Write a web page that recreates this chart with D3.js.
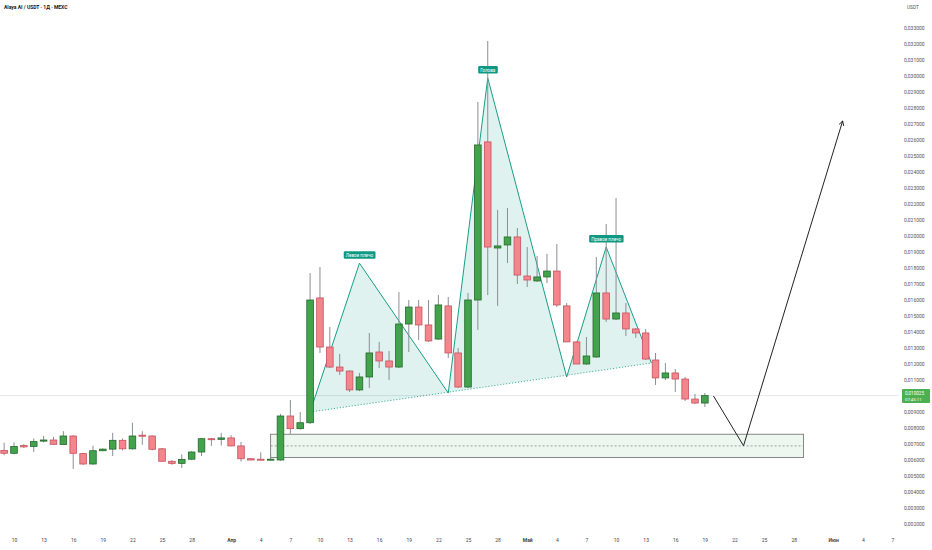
<!DOCTYPE html>
<html lang="ru">
<head>
<meta charset="UTF-8">
<title>Alaya AI / USDT</title>
<script src="https://d3js.org/d3.v7.min.js"></script>
<style>
  body { margin: 0; background: #fff; }
  svg text { font-family: Roboto, "Liberation Sans", sans-serif; }
</style>
</head>
<body>
<svg id="chart" width="932" height="550"></svg>
<script>
// --- данные (дневные свечи, 9 мар – 19 мая) ---
const firstDay = "2025-03-09";
const opens = [
  0.00660,0.00642,0.00690,0.00685,0.00718,0.00725,0.00697,0.00750,0.00640,0.00575,
  0.00658,0.00668,0.00723,0.00670,0.00755,0.00750,0.00670,0.00592,0.00579,0.00605,
  0.00650,0.00733,0.00729,0.00738,0.00688,0.00608,0.00605,0.00604,0.00600,0.00875,
  0.00796,0.00833,
  0.01613,0.01306,0.01181,0.01156,0.01038,0.01119,0.01275,0.01219,0.01181,0.01450,
  0.01556,0.01444,0.01356,0.01563,0.01269,0.01056,0.01600,0.02588,0.01925,
  0.01944,0.01994,0.01750,0.01719,0.01744,0.01781,0.01563,0.01338,0.01200,0.01244,
  0.01644,0.01481,0.01519,0.01419,0.01394,0.01225,0.01113,0.01144,0.01106,0.00981,0.00956
];
const highs = [
  0.00708,0.00710,0.00700,0.00735,0.00750,0.00745,0.00780,0.00755,0.00645,0.00690,
  0.00672,0.00770,0.00735,0.00833,0.00780,0.00755,0.00675,0.00600,0.00635,0.00655,
  0.00735,0.00738,0.00770,0.00755,0.00713,0.00612,0.00648,0.00635,0.00888,0.00975,
  0.00900,0.01769,
  0.01806,0.01431,0.01263,0.01160,0.01144,0.01394,0.01338,0.01281,0.01650,0.01600,
  0.01600,0.01600,0.01631,0.01619,0.01300,0.01644,0.02838,0.03219,0.02163,
  0.02175,0.02050,0.01931,0.01875,0.01888,0.01950,0.01581,0.01340,0.01369,0.01869,
  0.02075,0.02238,0.01581,0.01425,0.01419,0.01269,0.01206,0.01169,0.01119,0.01013,0.01019
];
const lows = [
  0.00630,0.00635,0.00675,0.00650,0.00710,0.00695,0.00695,0.00544,0.00570,0.00570,
  0.00655,0.00625,0.00660,0.00665,0.00695,0.00660,0.00590,0.00570,0.00550,0.00600,
  0.00625,0.00688,0.00690,0.00685,0.00590,0.00598,0.00598,0.00600,0.00595,0.00763,
  0.00790,0.00825,
  0.01269,0.01175,0.01131,0.01025,0.01030,0.01050,0.01175,0.01100,0.01175,0.01275,
  0.01350,0.01338,0.01350,0.01238,0.01050,0.01050,0.01413,0.01631,0.01563,
  0.01831,0.01700,0.01681,0.01713,0.01706,0.01556,0.01338,0.01200,0.01195,0.01238,
  0.01463,0.01475,0.01375,0.01363,0.01225,0.01069,0.01100,0.01025,0.00969,0.00950,0.00931
];
const closes = [
  0.00642,0.00685,0.00682,0.00715,0.00725,0.00698,0.00750,0.00642,0.00575,0.00658,
  0.00668,0.00723,0.00670,0.00750,0.00752,0.00667,0.00592,0.00579,0.00604,0.00650,
  0.00733,0.00727,0.00738,0.00688,0.00608,0.00600,0.00604,0.00605,0.00875,0.00796,
  0.00833,0.01600,
  0.01306,0.01181,0.01156,0.01038,0.01119,0.01269,0.01219,0.01181,0.01450,0.01556,
  0.01444,0.01344,0.01569,0.01269,0.01056,0.01600,0.02569,0.01931,0.01938,
  0.01994,0.01756,0.01725,0.01744,0.01781,0.01569,0.01338,0.01200,0.01250,0.01644,
  0.01481,0.01519,0.01419,0.01394,0.01231,0.01113,0.01144,0.01106,0.00981,0.00956,0.010025
];
const lastPrice = 0.010025;
const countdown = "07:45:11";

// фигура "голова и плечи"
const patternDates  = ["2025-04-09","2025-04-14","2025-04-23","2025-04-27","2025-05-05","2025-05-09","2025-05-13T14:00"];
const patternPrices = [0.00900, 0.01830, 0.01019, 0.02988, 0.01119, 0.01931, 0.01206];
const patternLabels = [[1, "Левое плечо"], [3, "Голова"], [5, "Правое плечо"]];

// зона поддержки и прогноз
const zoneDates  = ["2025-04-05", "2025-05-29"];
const zonePrices = [0.00761, 0.00616];
const zoneMid    = 0.00688;
const arrowDates  = ["2025-05-19T21:00", "2025-05-22T22:00", "2025-06-01T23:00"];
const arrowPrices = [0.01000, 0.00689, 0.02719];

// оси (0,010000 закрыта меткой текущей цены)
const priceTicks = d3.range(2, 34).filter(v => v !== 10).map(v => v / 1000);
const xTickDates = ["2025-03-10","2025-03-13","2025-03-16","2025-03-19","2025-03-22","2025-03-25","2025-03-28",
  "2025-04-01","2025-04-04","2025-04-07","2025-04-10","2025-04-13","2025-04-16","2025-04-19","2025-04-22","2025-04-25","2025-04-28",
  "2025-05-01","2025-05-04","2025-05-07","2025-05-10","2025-05-13","2025-05-16","2025-05-19","2025-05-22","2025-05-25","2025-05-28",
  "2025-06-01","2025-06-04","2025-06-07"];
const xTickLabels = ["10","13","16","19","22","25","28","Апр","4","7","10","13","16","19","22","25","28",
  "Май","4","7","10","13","16","19","22","25","28","Июн","4","7"];
const monthLabels = ["Апр", "Май", "Июн"];

const title = "Alaya AI / USDT · 1Д · MEXC";
const currency = "USDT";

// --- построение ---
const W = 932, H = 550, plotRight = 898;
const parse = s => new Date(s.length > 10 ? s + "Z" : s + "T00:00Z");
const svg = d3.select("#chart");

const x = d3.scaleUtc()
  .domain([parse("2025-03-10"), parse("2025-06-07")])
  .range([14, 892.4]);
const y = d3.scaleLinear()
  .domain([0.010, 0.032])
  .range([396, 44]);

const days = d3.utcDay.range(parse(firstDay), d3.utcDay.offset(parse(firstDay), opens.length));
const candles = days.map((d, i) => ({ date: d, o: opens[i], h: highs[i], l: lows[i], c: closes[i] }));

svg.append("rect").attr("width", W).attr("height", H).attr("fill", "#fff");

svg.append("clipPath").attr("id", "plot")
  .append("rect").attr("x", 0).attr("y", 0).attr("width", plotRight).attr("height", 532);
const plot = svg.append("g").attr("clip-path", "url(#plot)");

// линия текущей цены
plot.append("line")
  .attr("x1", 0).attr("x2", plotRight)
  .attr("y1", y(lastPrice)).attr("y2", y(lastPrice))
  .attr("stroke", "#e4e6ea").attr("stroke-width", 1);

// зона
const zx0 = x(parse(zoneDates[0])), zx1 = x(parse(zoneDates[1]));
plot.append("rect")
  .attr("x", zx0).attr("y", y(zonePrices[0]))
  .attr("width", zx1 - zx0).attr("height", y(zonePrices[1]) - y(zonePrices[0]))
  .attr("fill", "#eef7ef").attr("stroke", "#7a7a7a").attr("stroke-width", 0.9);
plot.append("line")
  .attr("x1", zx0).attr("x2", zx1)
  .attr("y1", y(zoneMid)).attr("y2", y(zoneMid))
  .attr("stroke", "#8a8a8a").attr("stroke-width", 0.8).attr("stroke-dasharray", "2,2");

// фигура
const pts = patternDates.map((d, i) => [x(parse(d)), y(patternPrices[i])]);
plot.append("path")
  .attr("d", d3.line()(pts) + "Z")
  .attr("fill", "rgba(8,153,129,0.13)")
  .attr("stroke", "none");
plot.append("path")
  .attr("d", d3.line()(pts))
  .attr("fill", "none").attr("stroke", "#1a9e86").attr("stroke-width", 1);
plot.append("line")
  .attr("x1", pts[0][0]).attr("y1", pts[0][1])
  .attr("x2", pts[pts.length - 1][0]).attr("y2", pts[pts.length - 1][1])
  .attr("stroke", "#1a9e86").attr("stroke-width", 0.8).attr("stroke-dasharray", "1.2,1.8");

// свечи
const bw = 6.6;
const cg = plot.append("g").selectAll("g").data(candles).join("g");
cg.append("line")
  .attr("x1", d => x(d.date)).attr("x2", d => x(d.date))
  .attr("y1", d => y(d.h)).attr("y2", d => y(d.l))
  .attr("stroke", "#8b8e96").attr("stroke-width", 1);
cg.append("rect")
  .attr("x", d => x(d.date) - bw / 2)
  .attr("y", d => y(Math.max(d.o, d.c)))
  .attr("width", bw)
  .attr("height", d => Math.max(1, Math.abs(y(d.o) - y(d.c))))
  .attr("fill", d => d.c >= d.o ? "#43a34c" : "#f3858c")
  .attr("stroke", d => d.c >= d.o ? "#22692a" : "#c8515c")
  .attr("stroke-width", 0.8);

// подписи фигуры
patternLabels.forEach(([i, text]) => {
  const [px, py] = pts[i];
  const g = plot.append("g");
  const t = g.append("text")
    .attr("x", px).attr("y", py - 6)
    .attr("text-anchor", "middle")
    .attr("font-size", 4.6).attr("fill", "#fff")
    .text(text);
  const bb = t.node().getBBox();
  g.insert("rect", "text")
    .attr("x", bb.x - 2).attr("y", py - 12)
    .attr("width", bb.width + 4).attr("height", 7.5)
    .attr("rx", 1.2)
    .attr("fill", "#0f9982");
});

// прогноз
const ap = arrowDates.map((d, i) => [x(parse(d)), y(arrowPrices[i])]);
plot.append("path")
  .attr("d", d3.line()(ap))
  .attr("fill", "none").attr("stroke", "#222").attr("stroke-width", 1);
{
  const [ax, ay] = ap[ap.length - 1], [bx, by] = ap[ap.length - 2];
  const ang = Math.atan2(ay - by, ax - bx), L = 5;
  const head = [
    [ax - L * Math.cos(ang - 0.5), ay - L * Math.sin(ang - 0.5)],
    [ax, ay],
    [ax - L * Math.cos(ang + 0.5), ay - L * Math.sin(ang + 0.5)]
  ];
  plot.append("path").attr("d", d3.line()(head))
    .attr("fill", "none").attr("stroke", "#222").attr("stroke-width", 1);
}

// ось цен
const fmt = v => d3.format(".6f")(v).replace(".", ",");
const yAxis = svg.append("g")
  .attr("transform", `translate(904,0)`)
  .call(d3.axisRight(y).tickValues(priceTicks).tickSize(0).tickPadding(0).tickFormat(fmt));
yAxis.select(".domain").remove();
yAxis.selectAll("text").attr("font-size", 5).attr("fill", "#555").attr("font-family", "Roboto, sans-serif");

// метка последней цены
svg.append("rect")
  .attr("x", 902).attr("y", y(lastPrice) - 6.5)
  .attr("width", 28).attr("height", 14)
  .attr("rx", 1).attr("fill", "#4caf50");
svg.append("text").attr("x", 905).attr("y", y(lastPrice) - 1)
  .attr("font-size", 4.6).attr("fill", "#fff").text(fmt(lastPrice));
svg.append("text").attr("x", 905).attr("y", y(lastPrice) + 5.6)
  .attr("font-size", 4.3).attr("fill", "#fff").text(countdown);

// ось дат
const xAxis = svg.append("g")
  .attr("transform", `translate(0,538)`)
  .call(d3.axisBottom(x).tickValues(xTickDates.map(parse)).tickSize(0).tickPadding(0)
    .tickFormat((d, i) => xTickLabels[i]));
xAxis.select(".domain").remove();
xAxis.selectAll("text")
  .attr("font-size", 5).attr("fill", "#444").attr("font-family", "Roboto, sans-serif")
  .attr("font-weight", (d, i) => monthLabels.includes(xTickLabels[i]) ? "bold" : "normal");

// заголовок
svg.append("text").attr("x", 4).attr("y", 9)
  .attr("font-size", 5).attr("fill", "#131722").attr("font-weight", "bold").text(title);
svg.append("text").attr("x", 907).attr("y", 9)
  .attr("font-size", 4.8).attr("fill", "#555").text(currency);
</script>
</body>
</html>
